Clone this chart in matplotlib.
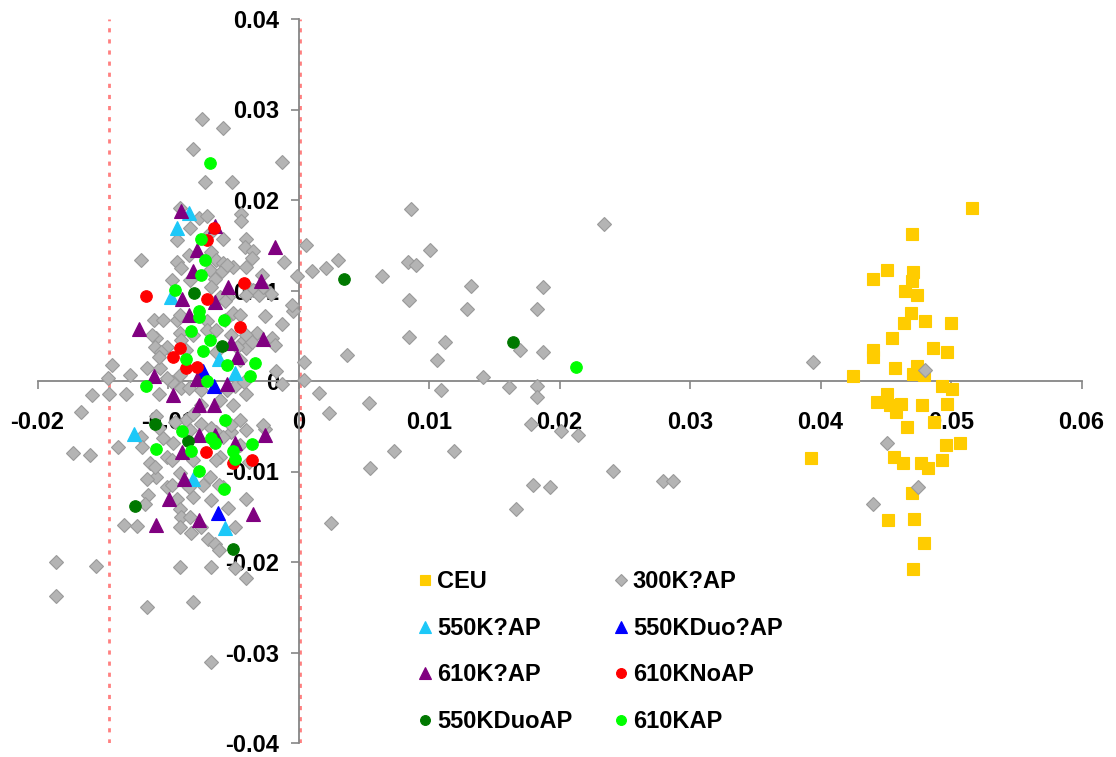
import matplotlib
matplotlib.use("Agg")
import matplotlib.pyplot as plt
from matplotlib.ticker import MultipleLocator, FuncFormatter

plt.rcParams['font.family'] = ['Liberation Sans', 'DejaVu Sans']
plt.rcParams['font.weight'] = 'bold'

# (x, y) pairs per sample set
ceu = [
    (0.0516, 0.0191), (0.0470, 0.0162), (0.0440, 0.0113), (0.0451, 0.0123), (0.0471, 0.0120),
    (0.0470, 0.0110), (0.0465, 0.0099), (0.0474, 0.0095), (0.0469, 0.0075), (0.0464, 0.0064),
    (0.0480, 0.0066), (0.0500, 0.0064), (0.0455, 0.0047), (0.0440, 0.0034), (0.0440, 0.0027),
    (0.0486, 0.0036), (0.0497, 0.0032), (0.0457, 0.0014), (0.0474, 0.0017), (0.0471, 0.0008),
    (0.0479, 0.0007), (0.0425, 0.0006), (0.0493, -0.0006), (0.0501, -0.0009), (0.0451, -0.0014),
    (0.0443, -0.0023), (0.0453, -0.0027), (0.0462, -0.0025), (0.0458, -0.0034), (0.0478, -0.0027),
    (0.0497, -0.0025), (0.0487, -0.0045), (0.0466, -0.0051), (0.0496, -0.0071), (0.0507, -0.0069),
    (0.0393, -0.0085), (0.0456, -0.0084), (0.0463, -0.0091), (0.0477, -0.0091), (0.0482, -0.0096),
    (0.0493, -0.0087), (0.0470, -0.0124), (0.0452, -0.0154), (0.0472, -0.0152), (0.0479, -0.0179),
    (0.0471, -0.0208),
]

k300 = [
    (0.0394, 0.0021), (0.0480, 0.0012), (0.0451, -0.0069), (0.0475, -0.0117), (0.0440, -0.0136),
    (0.0086, 0.0190), (0.0234, 0.0174), (0.0006, 0.0150), (0.0030, 0.0134), (0.0021, 0.0125),
    (0.0010, 0.0122), (-0.0001, 0.0116), (0.0064, 0.0116), (0.0101, 0.0145), (0.0084, 0.0132),
    (0.0090, 0.0128), (0.0132, 0.0105), (0.0085, 0.0090), (0.0129, 0.0080), (0.0183, 0.0080),
    (0.0187, 0.0104), (-0.0004, 0.0077), (-0.0005, 0.0084), (0.0085, 0.0049), (0.0112, 0.0043),
    (0.0037, 0.0029), (0.0106, 0.0023), (0.0004, 0.0021), (0.0170, 0.0034), (0.0187, 0.0032),
    (0.0004, 0.0001), (0.0141, 0.0004), (0.0016, -0.0013), (0.0109, -0.0010), (0.0161, -0.0007),
    (0.0183, -0.0006), (0.0183, -0.0018), (0.0054, -0.0024), (0.0023, -0.0035), (0.0178, -0.0047),
    (0.0201, -0.0055), (0.0214, -0.0060), (0.0073, -0.0077), (0.0119, -0.0077), (0.0055, -0.0096),
    (0.0241, -0.0099), (0.0180, -0.0115), (0.0193, -0.0117), (0.0279, -0.0111), (0.0287, -0.0110),
    (0.0167, -0.0141), (0.0025, -0.0157), (-0.0011, 0.0132), (-0.0021, 0.0096), (-0.0026, 0.0072),
    (-0.0013, 0.0063), (-0.0020, 0.0048), (-0.0017, 0.0011), (-0.0026, -0.0053), (-0.0013, 0.0242),
    (-0.0143, 0.0018), (-0.0146, 0.0003), (-0.0158, -0.0015), (-0.0145, -0.0014), (-0.0167, -0.0034),
    (-0.0138, -0.0073), (-0.0173, -0.0080), (-0.0160, -0.0082), (-0.0186, -0.0200), (-0.0155, -0.0204),
    (-0.0186, -0.0238), (-0.0134, -0.0159), (-0.0124, -0.0160), (-0.0091, -0.0205), (-0.0067, -0.0205),
    (-0.0040, -0.0218), (-0.0116, -0.0250), (-0.0081, -0.0244), (-0.0067, -0.0310),
    (-0.0074, 0.0290), (-0.0058, 0.0280), (-0.0081, 0.0256), (-0.0072, 0.0220), (-0.0051, 0.0220),
    (-0.0044, 0.0185), (-0.0044, 0.0177), (-0.0076, 0.0180), (-0.0070, 0.0182), (-0.0091, 0.0191),
    (-0.0083, 0.0169), (-0.0093, 0.0156), (-0.0058, 0.0157), (-0.0040, 0.0157), (-0.0041, 0.0148),
    (-0.0035, 0.0144), (-0.0121, 0.0134), (-0.0036, 0.0136), (-0.0093, 0.0132), (-0.0084, 0.0139),
    (-0.0067, 0.0143), (-0.0063, 0.0134), (-0.0058, 0.0130), (-0.0090, 0.0125), (-0.0068, 0.0123),
    (-0.0059, 0.0121), (-0.0050, 0.0126), (-0.0040, 0.0126), (-0.0028, 0.0117), (-0.0064, 0.0113),
    (-0.0097, 0.0112), (-0.0083, 0.0112), (-0.0067, 0.0104), (-0.0040, 0.0106), (-0.0035, 0.0101),
    (-0.0054, 0.0093), (-0.0030, 0.0095), (-0.0068, 0.0163), (-0.0055, 0.0128), (-0.0027, 0.0104),
    (-0.0060, 0.0093), (-0.0056, 0.0088), (-0.0040, 0.0095),
    (-0.0111, 0.0067), (-0.0104, 0.0067), (-0.0093, 0.0067), (-0.0070, 0.0066), (-0.0050, 0.0075),
    (-0.0045, 0.0073), (-0.0070, 0.0056), (-0.0063, 0.0056), (-0.0109, 0.0047), (-0.0101, 0.0038),
    (-0.0110, 0.0038), (-0.0042, 0.0045), (-0.0040, 0.0036), (-0.0032, 0.0053), (-0.0116, 0.0014),
    (-0.0106, 0.0014), (-0.0129, 0.0007), (-0.0091, 0.0007), (-0.0097, -0.0001), (-0.0090, -0.0008),
    (-0.0132, -0.0014), (-0.0060, -0.0021), (-0.0050, -0.0027), (-0.0040, -0.0014), (-0.0045, -0.0043),
    (-0.0086, -0.0043), (-0.0081, -0.0036), (-0.0109, -0.0039), (-0.0121, -0.0062), (-0.0104, -0.0063),
    (-0.0096, -0.0069), (-0.0063, -0.0056), (-0.0052, -0.0056), (-0.0040, -0.0054), (-0.0114, -0.0091),
    (-0.0101, -0.0084), (-0.0109, -0.0106), (-0.0068, -0.0106), (-0.0060, -0.0084), (-0.0038, -0.0089),
    (-0.0087, -0.0113), (-0.0081, -0.0128), (-0.0067, -0.0131), (-0.0040, -0.0130), (-0.0093, -0.0130),
    (-0.0091, 0.0073), (-0.0056, 0.0067), (-0.0112, 0.0051), (-0.0105, 0.0032), (-0.0091, 0.0053),
    (-0.0090, 0.0045), (-0.0086, 0.0034), (-0.0081, 0.0051), (-0.0063, 0.0032), (-0.0040, 0.0051),
    (-0.0047, 0.0038), (-0.0036, 0.0043), (-0.0018, 0.0040), (-0.0052, 0.0051), (-0.0107, 0.0027),
    (-0.0101, 0.0003), (-0.0107, -0.0014), (-0.0084, -0.0008), (-0.0075, -0.0010), (-0.0049, -0.0006),
    (-0.0042, -0.0001), (-0.0013, -0.0003), (-0.0055, -0.0010), (-0.0045, 0.0023),
    (-0.0075, -0.0027), (-0.0120, -0.0073), (-0.0110, -0.0095), (-0.0116, -0.0108), (-0.0097, -0.0087),
    (-0.0091, -0.0102), (-0.0075, -0.0047), (-0.0067, -0.0052), (-0.0052, -0.0049), (-0.0058, -0.0062),
    (-0.0027, -0.0049), (-0.0045, -0.0071), (-0.0063, -0.0087), (-0.0081, -0.0087), (-0.0101, -0.0117),
    (-0.0058, -0.0117), (-0.0095, -0.0045), (-0.0083, -0.0054), (-0.0107, -0.0052),
    (-0.0115, -0.0126), (-0.0118, -0.0136), (-0.0091, -0.0141), (-0.0090, -0.0150), (-0.0091, -0.0161),
    (-0.0082, -0.0168), (-0.0083, -0.0150), (-0.0075, -0.0161), (-0.0054, -0.0140), (-0.0049, -0.0161),
    (-0.0069, -0.0175), (-0.0064, -0.0180), (-0.0061, -0.0187), (-0.0097, -0.0115), (-0.0084, -0.0117),
    (-0.0073, -0.0115), (-0.0061, -0.0115), (-0.0049, -0.0207),
]

k550 = [
    (-0.0084, 0.0186), (-0.0093, 0.0169), (-0.0098, 0.0093), (-0.0061, 0.0024),
    (-0.0049, 0.0009), (-0.0126, -0.0059), (-0.0081, -0.0108), (-0.0056, -0.0162),
]

k550duo = [(-0.0073, 0.0011), (-0.0065, -0.0006), (-0.0062, -0.0146)]

k610 = [
    (-0.0078, 0.0145), (-0.0018, 0.0148), (-0.0090, 0.0188), (-0.0064, 0.0171), (-0.0081, 0.0122),
    (-0.0054, 0.0104), (-0.0029, 0.0110), (-0.0089, 0.0091), (-0.0064, 0.0087), (-0.0084, 0.0073),
    (-0.0122, 0.0058), (-0.0027, 0.0046), (-0.0052, 0.0042), (-0.0047, 0.0027), (-0.0111, 0.0006),
    (-0.0078, 0.0002), (-0.0055, -0.0003), (-0.0096, -0.0016), (-0.0076, -0.0027), (-0.0065, -0.0027),
    (-0.0076, -0.0060), (-0.0064, -0.0060), (-0.0089, -0.0078), (-0.0049, -0.0069), (-0.0026, -0.0060),
    (-0.0088, -0.0108), (-0.0099, -0.0130), (-0.0109, -0.0159), (-0.0076, -0.0154), (-0.0035, -0.0147),
]

k610_no = [
    (-0.0065, 0.0169), (-0.0070, 0.0156), (-0.0042, 0.0108), (-0.0117, 0.0094), (-0.0070, 0.0091),
    (-0.0045, 0.0060), (-0.0091, 0.0036), (-0.0096, 0.0026), (-0.0086, 0.0014), (-0.0078, 0.0016),
    (-0.0071, -0.0078), (-0.0036, -0.0087), (-0.0050, -0.0091),
]

k550duo_ap = [
    (-0.0080, 0.0097), (-0.0059, 0.0039), (0.0035, 0.0113), (0.0164, 0.0043),
    (-0.0110, -0.0048), (-0.0085, -0.0066), (-0.0125, -0.0138), (-0.0050, -0.0186),
]

k610_ap = [
    (-0.0068, 0.0241), (-0.0075, 0.0157), (-0.0072, 0.0134), (-0.0075, 0.0117), (-0.0095, 0.0101),
    (-0.0076, 0.0077), (-0.0076, 0.0071), (-0.0057, 0.0067), (-0.0082, 0.0055), (-0.0068, 0.0045),
    (-0.0073, 0.0033), (-0.0086, 0.0024), (-0.0055, 0.0018), (-0.0033, 0.0020), (-0.0037, 0.0006),
    (-0.0070, 0.0000), (-0.0117, -0.0006), (-0.0056, -0.0043), (-0.0089, -0.0055), (-0.0109, -0.0075),
    (-0.0082, -0.0077), (-0.0067, -0.0063), (-0.0064, -0.0069), (-0.0050, -0.0077), (-0.0036, -0.0070),
    (-0.0049, -0.0086), (-0.0076, -0.0099), (-0.0057, -0.0119), (0.0213, 0.0015),
]

# reference cut-offs
cutoffs = [-0.0145, 0.0001]

series = [
    ("CEU", ceu, "s", "#FFCC00", 8.7),
    ("300K?AP", k300, "D", "#B4B4B4", 6.8),
    ("550K?AP", k550, "^", "#1CC8F8", 9.5),
    ("550KDuo?AP", k550duo, "^", "#0000FF", 9.5),
    ("610K?AP", k610, "^", "#800080", 9.5),
    ("610KNoAP", k610_no, "o", "#FF0000", 8.3),
    ("550KDuoAP", k550duo_ap, "o", "#007800", 8.3),
    ("610KAP", k610_ap, "o", "#00FF00", 8.3),
]

fig = plt.figure(figsize=(11.16, 7.57), dpi=100)
ax = fig.add_axes([37.5 / 1116, 14 / 757, 1044 / 1116, 724 / 757])

for xc in cutoffs:
    ax.axvline(xc, color="#FF8080", lw=2, ls=(0, (1.5, 2.5)), zorder=1)

handles = {}
for name, pts, mk, col, ms in series:
    xs = [p[0] for p in pts]
    ys = [p[1] for p in pts]
    edge = "#9A9A9A" if mk == "D" else col
    h, = ax.plot(xs, ys, ls="none", marker=mk, ms=ms, mfc=col, mec=edge,
                 mew=0.8, label=name, zorder=3)
    handles[name] = h

ax.set_xlim(-0.02, 0.06)
ax.set_ylim(-0.04, 0.04)

for side in ("top", "right"):
    ax.spines[side].set_visible(False)
for side in ("left", "bottom"):
    ax.spines[side].set_position(("data", 0))
    ax.spines[side].set_color("#868686")
    ax.spines[side].set_linewidth(1.3)
    ax.spines[side].set_zorder(2)

ax.xaxis.set_major_locator(MultipleLocator(0.01))
ax.yaxis.set_major_locator(MultipleLocator(0.01))
fmt = FuncFormatter(lambda v, _: "0" if abs(v) < 1e-9 else f"{v:.2f}")
ax.xaxis.set_major_formatter(fmt)
ax.yaxis.set_major_formatter(fmt)
ax.tick_params(axis="x", direction="out", length=5.8, width=1.2, color="#868686",
               labelsize=17, pad=16)
ax.tick_params(axis="y", direction="out", length=5.8, width=1.2, color="#868686",
               labelsize=17, pad=8)
for lab in ax.get_xticklabels() + ax.get_yticklabels():
    lab.set_fontweight("bold")

order = ["CEU", "550K?AP", "610K?AP", "550KDuoAP",
         "300K?AP", "550KDuo?AP", "610KNoAP", "610KAP"]
leg = ax.legend([handles[n] for n in order], order, ncol=2, frameon=False,
                loc="upper left", bbox_to_anchor=(394 / 1116, 1 - 549 / 757),
                bbox_transform=fig.transFigure, prop={"size": 17, "weight": "bold"},
                handlelength=0.8, handletextpad=0.12, columnspacing=1.65,
                labelspacing=1.0, markerscale=0.85)

fig.savefig("out.png", dpi=100)
